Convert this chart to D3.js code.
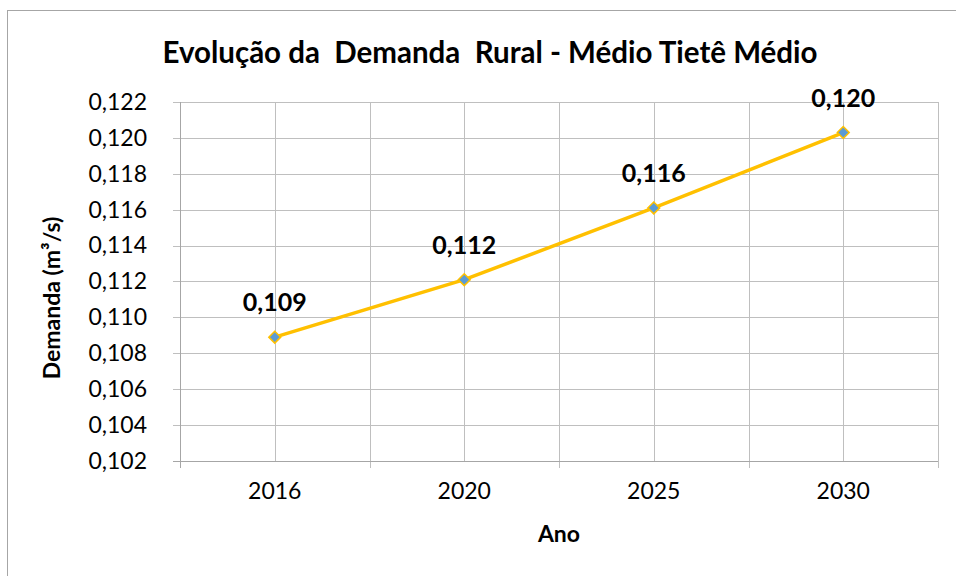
<!DOCTYPE html>
<html>
<head>
<meta charset="utf-8">
<script src="https://cdn.jsdelivr.net/npm/d3@7"></script>
<style>
 body { margin: 0; background: #fff; overflow: hidden; }
 svg { font-family: Lato, "Open Sans", sans-serif; display: block; }
 .grid-line { stroke: #bfbfbf; stroke-width: 1; }
</style>
</head>
<body>
<svg id="graph"></svg>
<script>
// dados do gráfico
let anos = ["2016", "2020", "2025", "2030"];
let demanda = [0.1089, 0.1121, 0.1161, 0.1203];
let rotulos = ["0,109", "0,112", "0,116", "0,120"];
let yTicks = [0.102, 0.104, 0.106, 0.108, 0.110, 0.112, 0.114, 0.116, 0.118, 0.120, 0.122];

let width = 956;
let height = 576;
let plotLeft = 180, plotRight = 938, plotTop = 102, plotBottom = 461;

let svg = d3.select("#graph")
 .attr("width", width)
 .attr("height", height);

// moldura externa (lados direito e inferior ficam fora da imagem)
svg.append("rect")
 .attr("x", 7.5).attr("y", 10.5)
 .attr("width", 960).attr("height", 580)
 .attr("fill", "none")
 .attr("stroke", "#a6a6a6");

let scaleX = d3.scaleBand()
 .domain(anos)
 .range([plotLeft, plotRight]);

let scaleY = d3.scaleLinear()
 .domain([0.102, 0.122])
 .range([plotBottom, plotTop]);

let fmt = d => d.toFixed(3).replace(".", ",");

// linhas horizontais da grade
svg.append("g")
 .selectAll("line")
 .data(yTicks)
 .enter()
 .append("line")
 .classed("grid-line", true)
 .attr("x1", plotLeft - 7)
 .attr("x2", plotRight)
 .attr("y1", d => Math.round(scaleY(d)) + 0.5)
 .attr("y2", d => Math.round(scaleY(d)) + 0.5);

// linhas verticais: limites e centros das categorias
let bordas = anos.map(a => scaleX(a)).concat([plotRight]);
let centros = anos.map(a => scaleX(a) + scaleX.bandwidth() / 2);

svg.append("g")
 .selectAll("line")
 .data(bordas)
 .enter()
 .append("line")
 .classed("grid-line", true)
 .attr("x1", d => Math.round(d) + 0.5)
 .attr("x2", d => Math.round(d) + 0.5)
 .attr("y1", plotTop)
 .attr("y2", plotBottom + 7);

svg.append("g")
 .selectAll("line")
 .data(centros)
 .enter()
 .append("line")
 .classed("grid-line", true)
 .attr("x1", d => Math.round(d) + 0.5)
 .attr("x2", d => Math.round(d) + 0.5)
 .attr("y1", plotTop)
 .attr("y2", plotBottom);

// eixos
let axisY = d3.axisLeft(scaleY).tickValues(yTicks).tickFormat(fmt).tickSize(0).tickPadding(33);
svg.append("g")
 .attr("transform", `translate(${plotLeft},0)`)
 .call(axisY)
 .call(g => g.select(".domain").remove())
 .selectAll("text")
 .attr("font-size", 23)
 .attr("font-family", "Lato, sans-serif")
 .attr("fill", "#000");

let axisX = d3.axisBottom(scaleX).tickSize(0).tickPadding(22);
svg.append("g")
 .attr("transform", `translate(0,${plotBottom})`)
 .call(axisX)
 .call(g => g.select(".domain").remove())
 .selectAll("text")
 .attr("font-size", 23)
 .attr("font-family", "Lato, sans-serif")
 .attr("fill", "#000");

svg.append("line")
 .attr("x1", plotLeft + 0.5).attr("x2", plotLeft + 0.5)
 .attr("y1", plotTop).attr("y2", plotBottom + 7)
 .attr("stroke", "#a6a6a6");
svg.append("line")
 .attr("x1", plotLeft - 7).attr("x2", plotRight)
 .attr("y1", plotBottom + 0.5).attr("y2", plotBottom + 0.5)
 .attr("stroke", "#a6a6a6");

// linha da série
let line = d3.line()
 .x((d, i) => scaleX(anos[i]) + scaleX.bandwidth() / 2)
 .y(d => scaleY(d));

svg.append("path")
 .datum(demanda)
 .attr("d", line)
 .attr("fill", "none")
 .attr("stroke", "#ffc000")
 .attr("stroke-width", 3.5);

svg.selectAll(".dot")
 .data(demanda)
 .enter()
 .append("path")
 .attr("d", d3.symbol().type(d3.symbolDiamond2).size(90))
 .attr("transform", (d, i) => `translate(${scaleX(anos[i]) + scaleX.bandwidth() / 2},${scaleY(d)})`)
 .attr("fill", "#5b9bd5")
 .attr("stroke", "#ffc000")
 .attr("stroke-width", 1.5);

// rótulos de dados
svg.selectAll(".rotulo")
 .data(demanda)
 .enter()
 .append("text")
 .attr("x", (d, i) => scaleX(anos[i]) + scaleX.bandwidth() / 2)
 .attr("y", d => scaleY(d) - 26)
 .attr("text-anchor", "middle")
 .attr("font-size", 25)
 .attr("font-weight", "bold")
 .text((d, i) => rotulos[i]);

// títulos
svg.append("text")
 .attr("x", 490).attr("y", 63)
 .attr("text-anchor", "middle")
 .attr("font-size", 29.5)
 .attr("font-weight", "bold")
 .style("white-space", "pre")
 .text("Evolução da  Demanda  Rural - Médio Tietê Médio");

svg.append("text")
 .attr("x", 559).attr("y", 542)
 .attr("text-anchor", "middle")
 .attr("font-size", 23)
 .attr("font-weight", "bold")
 .text("Ano");

svg.append("text")
 .attr("transform", "translate(60,298) rotate(-90)")
 .attr("text-anchor", "middle")
 .attr("font-size", 23)
 .attr("font-weight", "bold")
 .text("Demanda (m³/s)");
</script>
</body>
</html>
